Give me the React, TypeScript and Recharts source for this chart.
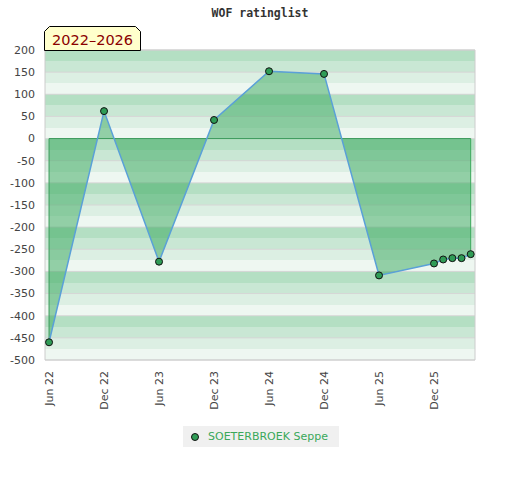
import React from 'react'
import {
  ComposedChart,
  Area,
  Line,
  XAxis,
  YAxis,
  CartesianGrid,
  ReferenceLine,
} from 'recharts'

// rating list dates (yyyy-mm) and ratings
const dates = [
  '2022-06', '2022-12', '2023-06', '2023-12', '2024-06', '2024-12',
  '2025-06', '2025-12', '2026-01', '2026-02', '2026-03', '2026-04',
]
const ratings = [-460, 62, -278, 42, 152, 146, -309, -282, -273, -270, -270, -261]

const xTickLabels = ['Jun 22', 'Dec 22', 'Jun 23', 'Dec 23', 'Jun 24', 'Dec 24', 'Jun 25', 'Dec 25']
const leftTicks = [200, 150, 100, 50, 0, -50, -100, -150, -200, -250, -300, -350, -400, -450, -500]
const rightTicks = leftTicks

const playerName = 'SOETERBROEK Seppe'
const title = 'WOF ratinglist'
const period = '2022–2026'

const Y_MIN = -500
const Y_MAX = 200
const BAND = 25
const bandFills = ['#b4dfc3', '#c9e7d4', '#dcefe3', '#eef7f1']

const monthIndex = (d: string) => {
  const [y, m] = d.split('-').map(Number)
  return (y - 2022) * 12 + (m - 6)
}

const chartData = dates.map((d, i) => ({ m: monthIndex(d), rating: ratings[i] }))
const first = chartData[0]
const last = chartData[chartData.length - 1]

const font = '"DejaVu Sans", Verdana, sans-serif'

// map a value to pixels using the axis scale if we get one, else the plot offset
const yPixels = (values: number[]) => (props: any) => {
  const s = props?.yAxis?.scale
  if (typeof s === 'function') return values.map((v) => s(v))
  const { top, height } = props.offset
  return values.map((v) => top + ((Y_MAX - v) / (Y_MAX - Y_MIN)) * height)
}

const bandEdges: number[] = []
for (let v = Y_MAX; v > Y_MIN; v -= BAND) bandEdges.push(v)

const XTick = (props: any) => {
  const { x, y, payload } = props
  const ty = y + 10
  return (
    <text
      x={x}
      y={ty}
      dy={4}
      transform={`rotate(-90, ${x}, ${ty})`}
      textAnchor="end"
      fontSize={11}
      fontFamily={font}
      fill="#444"
    >
      {xTickLabels[payload.value / 6] ?? ''}
    </text>
  )
}

const RightTick = (props: any) => {
  const { x, y, payload } = props
  return (
    <g>
      <line x1={x - 5} x2={x - 1} y1={y} y2={y} stroke="#222" />
      {payload.value % 100 === 0 && (
        <text x={x + 6} y={y} dy={4} fontSize={11} fontFamily={font} fill="#222">
          {payload.value}
        </text>
      )}
    </g>
  )
}

export default function App() {
  return (
    <div style={{ position: 'absolute', left: 0, top: 0, width: 520, height: 480, background: '#fff' }}>
      <div
        style={{
          position: 'absolute',
          top: 6,
          left: 0,
          width: 520,
          textAlign: 'center',
          fontFamily: '"DejaVu Sans Mono", monospace',
          fontWeight: 'bold',
          fontSize: 11.5,
          color: '#333',
        }}
      >
        {title}
      </div>

      <ComposedChart width={520} height={480} data={chartData} margin={{ top: 50, right: 0, bottom: 60, left: 0 }}>
        <CartesianGrid
          horizontal
          vertical={false}
          stroke="none"
          horizontalFill={bandFills}
          horizontalCoordinatesGenerator={yPixels(bandEdges)}
        />
        <CartesianGrid
          horizontal
          vertical={false}
          stroke="#d6d6d6"
          horizontalCoordinatesGenerator={yPixels(leftTicks)}
        />
        <XAxis
          dataKey="m"
          type="number"
          domain={[-0.44, 46.47]}
          ticks={[0, 6, 12, 18, 24, 30, 36, 42]}
          interval={0}
          height={60}
          tickLine={false}
          tickSize={1}
          tickMargin={0}
          stroke="#ccc"
          tick={<XTick />}
        />
        <YAxis
          type="number"
          domain={[Y_MIN, Y_MAX]}
          ticks={leftTicks}
          interval={0}
          width={45}
          tickLine={false}
          tickMargin={4}
          stroke="#ccc"
          tick={{ fontSize: 11, fontFamily: font, fill: '#444' }}
        />
        <YAxis
          yAxisId="r"
          orientation="right"
          type="number"
          domain={[Y_MIN, Y_MAX]}
          ticks={rightTicks}
          interval={0}
          width={45}
          tickLine={false}
          tickSize={1}
          tickMargin={0}
          stroke="#ccc"
          tick={<RightTick />}
        />
        <ReferenceLine y={Y_MAX} stroke="#ccc" />
        <Area
          dataKey="rating"
          type="linear"
          baseValue={0}
          fill="#36a75b"
          fillOpacity={0.5}
          stroke="none"
          isAnimationActive={false}
        />
        <ReferenceLine segment={[{ x: first.m, y: 0 }, { x: last.m, y: 0 }]} stroke="#3a9a5a" />
        <ReferenceLine segment={[{ x: first.m, y: 0 }, { x: first.m, y: first.rating }]} stroke="#3a9a5a" />
        <ReferenceLine segment={[{ x: last.m, y: 0 }, { x: last.m, y: last.rating }]} stroke="#3aa85a" />
        <Line
          dataKey="rating"
          type="linear"
          stroke="#5aa0d8"
          strokeWidth={1.5}
          dot={{ r: 3.5, fill: '#2f9c56', stroke: '#111', strokeWidth: 1 }}
          activeDot={false}
          isAnimationActive={false}
        />
      </ComposedChart>

      <svg style={{ position: 'absolute', left: 44, top: 26 }} width={98} height={26}>
        <polygon
          points="5.5,0.5 91.5,0.5 96.5,5.5 96.5,24.5 0.5,24.5 0.5,5.5"
          fill="#ffffcc"
          stroke="#000"
          strokeWidth={1}
        />
        <text x={8} y={19} fontSize={14.5} fontFamily={font} fill="#8b0000">
          {period}
        </text>
      </svg>

      <div
        style={{
          position: 'absolute',
          left: 183,
          top: 426,
          width: 156,
          height: 21,
          background: '#f0f0f0',
          display: 'flex',
          alignItems: 'center',
          fontFamily: font,
          fontSize: 11,
          color: '#3aa85a',
        }}
      >
        <span
          style={{
            display: 'inline-block',
            width: 6,
            height: 6,
            borderRadius: '50%',
            background: '#2f9c56',
            border: '1px solid #111',
            marginLeft: 8,
            marginRight: 9,
          }}
        />
        {playerName}
      </div>
    </div>
  )
}
